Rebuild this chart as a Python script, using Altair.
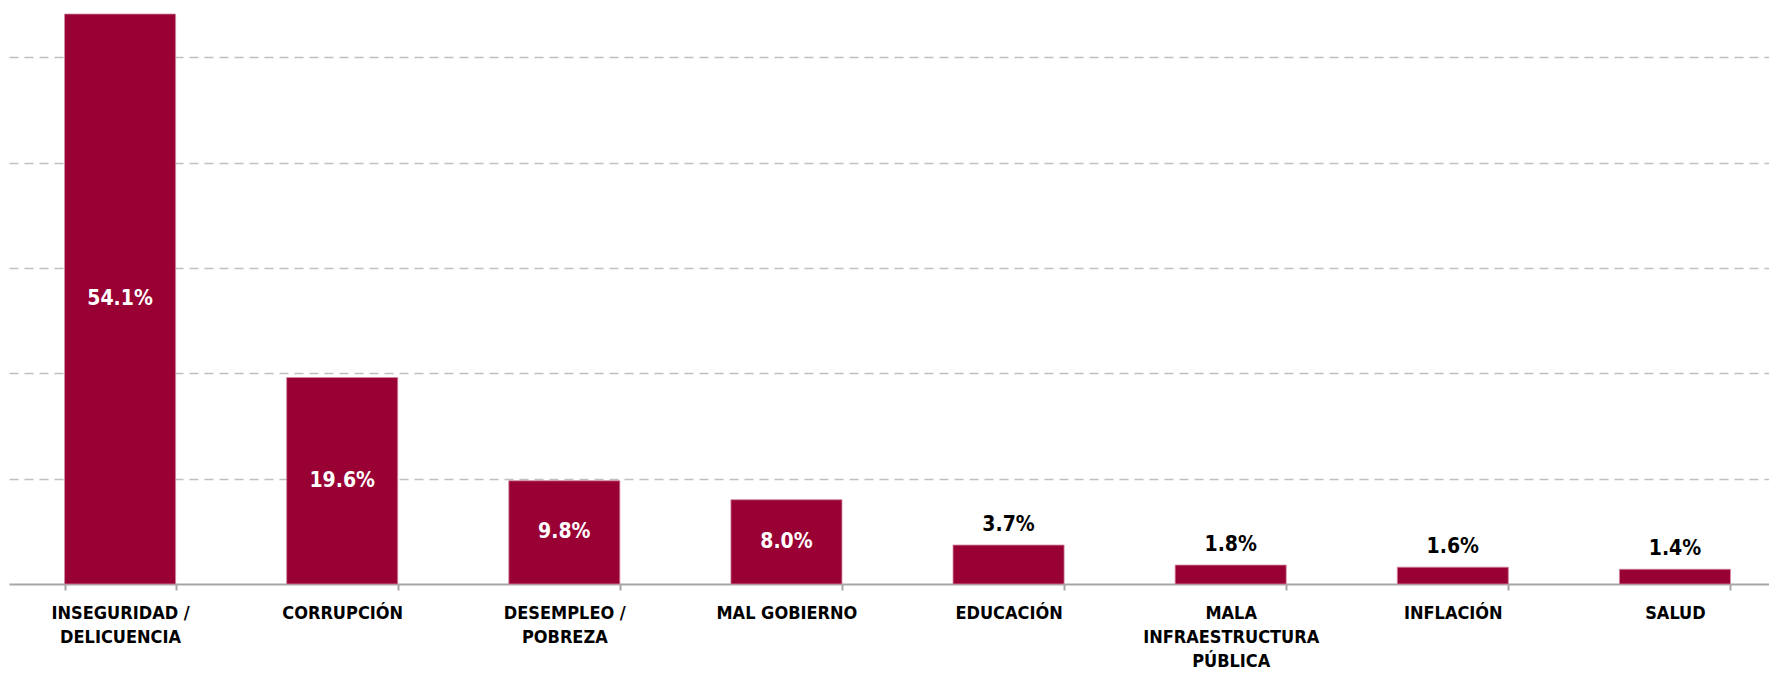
import altair as alt
import pandas as pd

categories = [
    "INSEGURIDAD /|DELICUENCIA",
    "CORRUPCIÓN",
    "DESEMPLEO /|POBREZA",
    "MAL GOBIERNO",
    "EDUCACIÓN",
    "MALA|INFRAESTRUCTURA|PÚBLICA",
    "INFLACIÓN",
    "SALUD",
]
values = [54.1, 19.6, 9.8, 8.0, 3.7, 1.8, 1.6, 1.4]
grid_values = [10, 20, 30, 40, 50]

df = pd.DataFrame({"cat": categories, "value": values})

FONT = "DejaVu Sans Condensed, Liberation Sans Narrow, sans-serif"
BAR = "#990033"

x = alt.X(
    "cat:N",
    sort=None,
    title=None,
    scale=alt.Scale(range=[0, 1777], paddingInner=0.5, paddingOuter=0.25),
    axis=alt.Axis(
        labelExpr="split(datum.label, '|')",
        labelAngle=0,
        labelFont=FONT,
        labelFontSize=18,
        labelFontWeight="bold",
        labelColor="#000000",
        labelLineHeight=24,
        labelPadding=14,
        labelLimit=0,
        labelOverlap=False,
        tickBand="extent",
        tickSize=6,
        tickWidth=2,
        tickColor="#a6a6a6",
        domainColor="#a6a6a6",
        domainWidth=2,
        grid=False,
    ),
)
y = alt.Y(
    "value:Q",
    title=None,
    scale=alt.Scale(domain=[0, 54.67], nice=False),
    axis=alt.Axis(
        values=grid_values,
        labels=False,
        ticks=False,
        domain=False,
        grid=True,
        gridColor="#c0c0c0",
        gridDash=[9, 6],
        gridWidth=1.5,
    ),
)

base = alt.Chart(df)

bars = base.mark_bar(color=BAR, stroke="#d28aa0", strokeWidth=0.8).encode(x=x, y=y)

inside = (
    base.transform_filter("datum.value >= 5")
    .transform_calculate(ymid="datum.value / 2", txt="format(datum.value, '.1f') + '%'")
    .mark_text(color="#ffffff", font=FONT, fontSize=21, fontWeight="bold", baseline="middle")
    .encode(x=alt.X("cat:N", sort=None), y=alt.Y("ymid:Q"), text="txt:N")
)
outside = (
    base.transform_filter("datum.value < 5")
    .transform_calculate(txt="format(datum.value, '.1f') + '%'")
    .mark_text(color="#000000", font=FONT, fontSize=21, fontWeight="bold", baseline="middle", dy=-20)
    .encode(x=alt.X("cat:N", sort=None), y=alt.Y("value:Q"), text="txt:N")
)

chart = (
    alt.layer(bars, inside, outside)
    .properties(
        width=1760,
        height=576,
        padding={"left": 1, "top": 0, "right": 0, "bottom": 89},
        autosize=alt.AutoSizeParams(type="none"),
    )
    .configure_view(stroke=None)
)

chart.save("out.html", embed_options={"renderer": "svg", "actions": False})
